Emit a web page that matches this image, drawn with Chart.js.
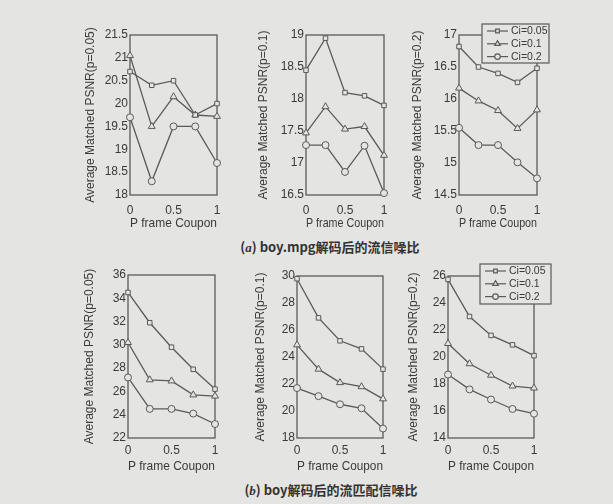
<!DOCTYPE html>
<html><head><meta charset="utf-8">
<script src="https://cdn.jsdelivr.net/npm/chart.js@4/dist/chart.umd.min.js"></script>
<style>
html,body{margin:0;padding:0;background:#e4e4e2;}
body{width:613px;height:504px;position:relative;overflow:hidden;font-family:"Liberation Sans",Arial,sans-serif;}
canvas{position:absolute;}
.cap{position:absolute;font-family:"Noto Sans CJK SC","Liberation Sans",sans-serif;font-weight:bold;font-size:13px;color:#333;white-space:nowrap;transform:translate(-50%,-50%);}
.cap i{font-family:"Liberation Serif",serif;}
</style></head><body>
<div class="cap" style="left:330px;top:246px">(<i>a</i>) boy.mpg解码后的流信噪比</div>
<div class="cap" style="left:331px;top:489px">(<i>b</i>) boy解码后的流匹配信噪比</div>
<script>
// ---- data ----
const xValues = [0, 0.25, 0.5, 0.75, 1];
const seriesLabels = ['Ci=0.05', 'Ci=0.1', 'Ci=0.2'];
const xTicks = [0, 0.5, 1];
const pValues = ['0.05', '0.1', '0.2'];

// (a) boy.mpg
const a_p005_ci005 = [20.7, 20.4, 20.5, 19.75, 20.0];
const a_p005_ci01  = [21.05, 19.5, 20.15, 19.75, 19.72];
const a_p005_ci02  = [19.7, 18.3, 19.5, 19.5, 18.7];

const a_p01_ci005 = [18.45, 18.95, 18.1, 18.05, 17.9];
const a_p01_ci01  = [17.47, 17.88, 17.53, 17.57, 17.12];
const a_p01_ci02  = [17.28, 17.28, 16.86, 17.27, 16.53];

const a_p02_ci005 = [16.82, 16.5, 16.4, 16.26, 16.48];
const a_p02_ci01  = [16.17, 15.97, 15.82, 15.54, 15.83];
const a_p02_ci02  = [15.55, 15.28, 15.28, 15.01, 14.76];

// (b) boy
const b_p005_ci005 = [34.5, 31.9, 29.8, 27.9, 26.2];
const b_p005_ci01  = [30.2, 27.0, 26.9, 25.7, 25.6];
const b_p005_ci02  = [27.2, 24.5, 24.5, 24.1, 23.2];

const b_p01_ci005 = [29.8, 26.9, 25.2, 24.6, 23.1];
const b_p01_ci01  = [24.9, 23.1, 22.1, 21.8, 20.9];
const b_p01_ci02  = [21.7, 21.1, 20.5, 20.2, 18.7];

const b_p02_ci005 = [25.75, 23.0, 21.6, 20.9, 20.1];
const b_p02_ci01  = [21.0, 19.5, 18.65, 17.85, 17.7];
const b_p02_ci02  = [18.7, 17.6, 16.85, 16.15, 15.8];

// y axis ranges
const yRanges = [[18, 21.5, 0.5], [16.5, 19, 0.5], [14.5, 17, 0.5], [22, 36, 2], [18, 30, 2], [14, 26, 2]];

// ---- layout / style ----
const BG = '#e4e4e2';
const LINE = '#5a5a5a';
const TXT = '#3a3a3a';
const pointStyles = ['rect', 'triangle', 'circle'];
const pointRadii = [3.2, 4, 3.5];

const panels = [
  {series: [a_p005_ci005, a_p005_ci01, a_p005_ci02], p: 0, range: 0, geo: {L:130, R:217, T:35, B:195, yw:47}, xpad: 8, legend: null},
  {series: [a_p01_ci005, a_p01_ci01, a_p01_ci02], p: 1, range: 1, geo: {L:306, R:384, T:35, B:195, yw:50}, xpad: 8, legend: null},
  {series: [a_p02_ci005, a_p02_ci01, a_p02_ci02], p: 2, range: 2, geo: {L:459, R:537, T:35, B:195, yw:49}, xpad: 8, legend: {x:482, y:24, w:67, h:39}},
  {series: [b_p005_ci005, b_p005_ci01, b_p005_ci02], p: 0, range: 3, geo: {L:128, R:215, T:275, B:438, yw:46}, xpad: 5, legend: null},
  {series: [b_p01_ci005, b_p01_ci01, b_p01_ci02], p: 1, range: 4, geo: {L:297, R:383, T:276, B:438, yw:44}, xpad: 5, legend: null},
  {series: [b_p02_ci005, b_p02_ci01, b_p02_ci02], p: 2, range: 5, geo: {L:448, R:534, T:276, B:438, yw:42}, xpad: 5, legend: {x:480, y:264, w:71, h:40}}
];

const TOPPAD = 10, XH = 40, RIGHTPAD = 14;

function drawMarker(ctx, style, x, y, r) {
  Chart.helpers.drawPoint(ctx, {pointStyle: style, radius: r, borderWidth: 1, rotation: 0}, x, y);
}

const boxPlugin = {
  id: 'box',
  beforeDatasetsDraw(chart) {
    const a = chart.chartArea, ctx = chart.ctx;
    ctx.save();
    ctx.strokeStyle = LINE; ctx.lineWidth = 1.3;
    ctx.strokeRect(a.left, a.top, a.right - a.left, a.bottom - a.top);
    ctx.restore();
  },
  afterDraw(chart) {
    const o = chart.options.plugins.box;
    const lg = o && o.legend;
    if (!lg) return;
    const ctx = chart.ctx;
    const x = lg.x - o.ox, y = lg.y - o.oy;
    ctx.save();
    ctx.fillStyle = BG; ctx.strokeStyle = LINE; ctx.lineWidth = 1.2;
    ctx.fillRect(x, y, lg.w, lg.h);
    ctx.strokeRect(x, y, lg.w, lg.h);
    ctx.font = '10.5px "Liberation Sans", Arial, sans-serif';
    ctx.textBaseline = 'middle';
    for (let i = 0; i < 3; i++) {
      const ry = y + 7 + i * 12.8;
      ctx.strokeStyle = LINE; ctx.lineWidth = 1.2;
      ctx.beginPath(); ctx.moveTo(x + 5, ry); ctx.lineTo(x + 26, ry); ctx.stroke();
      ctx.fillStyle = BG; ctx.strokeStyle = LINE;
      drawMarker(ctx, pointStyles[i], x + 15.5, ry, pointRadii[i] * 0.8);
      ctx.fillStyle = TXT;
      ctx.fillText(chart.data.datasets[i].label, x + 29, ry + 0.5);
    }
    ctx.restore();
  }
};

panels.forEach(pn => {
  const g = pn.geo;
  const cv = document.createElement('canvas');
  const left = g.L - g.yw;
  const top = Math.min(g.T - TOPPAD, pn.legend ? pn.legend.y - 3 : 9999);
  const rightEdge = Math.max(g.R + RIGHTPAD, pn.legend ? pn.legend.x + pn.legend.w + 3 : 0);
  const w = rightEdge - left;
  const h = (g.B - top) + XH;
  cv.width = w; cv.height = h;
  cv.style.left = left + 'px'; cv.style.top = top + 'px';
  cv.style.width = w + 'px'; cv.style.height = h + 'px';
  document.body.appendChild(cv);
  const [ymin, ymax, ystep] = yRanges[pn.range];
  new Chart(cv, {
    type: 'line',
    data: {
      datasets: pn.series.map((s, i) => ({
        label: seriesLabels[i],
        data: xValues.map((xv, k) => ({x: xv, y: s[k]})),
        borderColor: LINE,
        borderWidth: 1.3,
        pointStyle: pointStyles[i],
        pointRadius: pointRadii[i],
        pointBorderWidth: 1,
        pointBorderColor: LINE,
        pointBackgroundColor: BG,
        tension: 0,
        clip: false
      }))
    },
    options: {
      responsive: false,
      animation: false,
      devicePixelRatio: 1,
      layout: {padding: {top: g.T - top, right: rightEdge - g.R, left: 0, bottom: 0}},
      plugins: {
        legend: {display: false},
        tooltip: {enabled: false},
        box: {legend: pn.legend, ox: left, oy: top}
      },
      scales: {
        x: {
          type: 'linear', min: 0, max: 1,
          afterFit: s => { s.height = XH; },
          afterBuildTicks: s => { s.ticks = xTicks.map(v => ({value: v})); },
          grid: {display: false, drawTicks: false},
          border: {display: false},
          ticks: {color: TXT, font: {size: 12, family: '"Liberation Sans", Arial, sans-serif'}, padding: pn.xpad, maxRotation: 0, callback: v => String(v)},
          title: {display: true, text: 'P frame Coupon', color: TXT, font: {size: 13, family: '"Liberation Sans", Arial, sans-serif'}, padding: {top: 0, bottom: 4}}
        },
        y: {
          type: 'linear', min: ymin, max: ymax,
          afterFit: s => { s.width = g.yw; },
          grid: {display: false, drawTicks: false},
          border: {display: false},
          ticks: {stepSize: ystep, color: TXT, font: {size: 12, family: '"Liberation Sans", Arial, sans-serif'}, padding: 2, callback: v => String(v)},
          title: {display: true, text: 'Average Matched PSNR(p=' + pValues[pn.p] + ')', color: TXT, font: {size: 12, family: '"Liberation Sans", Arial, sans-serif'}, padding: {top: 0, bottom: 0}}
        }
      }
    },
    plugins: [boxPlugin]
  });
});
</script>
</body></html>
